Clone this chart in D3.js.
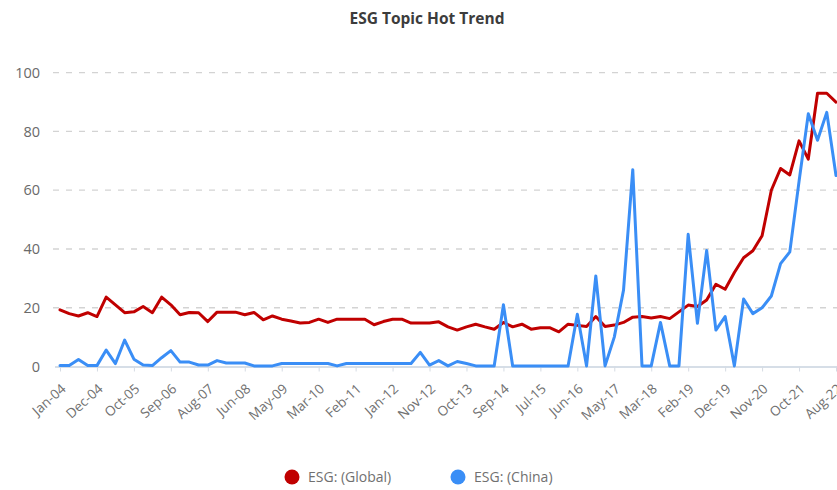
<!DOCTYPE html>
<html>
<head>
<meta charset="utf-8">
<script src="https://cdn.jsdelivr.net/npm/d3@7"></script>
<style>
  html, body { margin: 0; padding: 0; background: #fff; }
  svg { display: block; font-family: "Open Sans", "Noto Sans", sans-serif; }
</style>
</head>
<body>
<svg id="chart" width="837" height="490"></svg>
<script>
// Axis tick labels (one every fourth observation)
const tickLabels = ["Jan-04", "Dec-04", "Oct-05", "Sep-06", "Aug-07", "Jun-08", "May-09",
  "Mar-10", "Feb-11", "Jan-12", "Nov-12", "Oct-13", "Sep-14", "Jul-15", "Jun-16",
  "May-17", "Mar-18", "Feb-19", "Dec-19", "Nov-20", "Oct-21", "Aug-22"];

const yTicks = [0, 20, 40, 60, 80, 100];

const seriesNames = ["ESG: (Global)", "ESG: (China)"];
const seriesColors = ["#c00000", "#3a8ef6"];

// Search interest, global
const globalValues = [
  19.3, 18, 17.2, 18.3, 17, 23.6, 21, 18.3, 18.6, 20.4,
  18.3, 23.6, 21, 17.6, 18.4, 18.3, 15.3, 18.5, 18.5, 18.5,
  17.6, 18.4, 15.9, 17.2, 16.1, 15.5, 14.8, 15, 16.1, 15,
  16.1, 16.1, 16.1, 16.1, 14.2, 15.3, 16.1, 16.1, 14.8, 14.8,
  14.8, 15.2, 13.5, 12.4, 13.5, 14.4, 13.5, 12.7, 15, 13.5,
  14.4, 12.7, 13.2, 13.2, 11.8, 14.4, 14, 13.6, 17, 13.6,
  14.1, 15, 16.8, 17, 16.5, 17, 16.3, 18.6, 20.9, 20.4,
  22.6, 28, 26.3, 32, 37, 39.4, 44.5, 60, 67.4, 65.2,
  76.8, 70.6, 93, 93, 90
];

// Search interest, China
const chinaValues = [
  0.3, 0.3, 2.4, 0.3, 0.3, 5.6, 1, 9, 2.5, 0.5,
  0.3, 3, 5.4, 1.5, 1.5, 0.5, 0.5, 2, 1.2, 1.2,
  1.2, 0.2, 0.2, 0.2, 1, 1, 1, 1, 1, 1,
  0.2, 1, 1, 1, 1, 1, 1, 1, 1, 4.8,
  0.5, 2, 0.2, 1.7, 1, 0.2, 0.2, 0.2, 21, 0.2,
  0.2, 0.2, 0.2, 0.2, 0.2, 0.2, 17.8, 0.2, 30.8, 0.2,
  10, 26, 67, 0.2, 0.2, 15, 0.2, 0.2, 45, 14.7,
  39.5, 12.4, 17, 0.2, 23, 18, 20, 24, 35, 39,
  63, 86, 77, 86.5, 65
];

const svg = d3.select("#chart");
const W = 837, H = 490;
const left = 55, plotX0 = 60, plotX1 = 836;
const yBottom = 366.5, yTop = 72.7;

const x = d3.scaleLinear().domain([0, globalValues.length - 1]).range([plotX0, plotX1]);
const y = d3.scaleLinear().domain([0, 100]).range([yBottom, yTop]);

// Title
svg.append("text")
  .attr("x", 427).attr("y", 24)
  .attr("text-anchor", "middle")
  .attr("font-size", 15.5)
  .attr("font-weight", 700)
  .attr("fill", "#3c3c3c")
  .text("ESG Topic Hot Trend");

// Dashed horizontal grid lines
svg.append("g")
  .selectAll("line")
  .data(yTicks.filter(d => d > 0))
  .join("line")
  .attr("x1", left - 2).attr("x2", W)
  .attr("y1", d => y(d)).attr("y2", d => y(d))
  .attr("stroke", "#d3d3d3")
  .attr("stroke-width", 1.3)
  .attr("stroke-dasharray", "6,7");

// Y axis labels
const yAxis = svg.append("g")
  .attr("transform", `translate(${left},0)`)
  .call(d3.axisLeft(y).tickValues(yTicks).tickSize(0).tickPadding(15));
yAxis.select(".domain").remove();
yAxis.selectAll("text")
  .attr("font-size", 14.5)
  .attr("fill", "#6a6a6a")
  .attr("font-family", "'Open Sans', sans-serif");

// X axis
const xAxis = svg.append("g")
  .attr("transform", `translate(0,${yBottom})`)
  .call(d3.axisBottom(x)
    .tickValues(d3.range(0, globalValues.length, 4))
    .tickFormat(i => tickLabels[i / 4])
    .tickSize(5));
xAxis.select(".domain")
  .attr("d", `M${left},0.5H${W}`)
  .attr("stroke", "#c9d3df")
  .attr("stroke-width", 1.5);
xAxis.selectAll(".tick line")
  .attr("stroke", "#d5dbe3");
xAxis.selectAll(".tick text")
  .attr("font-size", 13.5)
  .attr("fill", "#707070")
  .attr("font-family", "'Open Sans', sans-serif")
  .attr("text-anchor", "end")
  .attr("dy", "0.35em")
  .attr("y", 0)
  .attr("transform", "translate(3,20) rotate(-42)");

// Series lines
const line = d3.line()
  .x((d, i) => x(i))
  .y(d => y(d));

const plot = svg.append("g");
[globalValues, chinaValues].forEach((vals, k) => {
  plot.append("path")
    .datum(vals)
    .attr("d", line)
    .attr("fill", "none")
    .attr("stroke", seriesColors[k])
    .attr("stroke-width", 3)
    .attr("stroke-linejoin", "round")
    .attr("stroke-linecap", "round");
});

// Legend
const legendItems = [
  { cx: 292, tx: 308 },
  { cx: 458, tx: 474 }
];
const legend = svg.append("g");
seriesNames.forEach((name, k) => {
  legend.append("circle")
    .attr("cx", legendItems[k].cx).attr("cy", 477)
    .attr("r", 7.5)
    .attr("fill", seriesColors[k]);
  legend.append("text")
    .attr("x", legendItems[k].tx).attr("y", 477)
    .attr("dy", "0.35em")
    .attr("font-size", 14)
    .attr("fill", "#707070")
    .text(name);
});
</script>
</body>
</html>
